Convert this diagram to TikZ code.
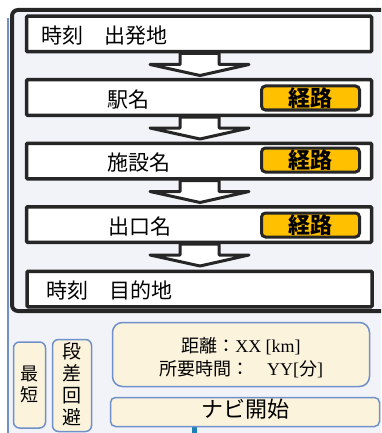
\documentclass[tikz,border=0pt]{standalone}
\usepackage{fontspec}
\setmainfont{Noto Sans CJK JP}
\newfontfamily\latinserif{Liberation Serif}
\usetikzlibrary{calc}
\definecolor{bgl}{HTML}{F2F3F9}
\definecolor{frameblk}{HTML}{262626}
\definecolor{blueln}{HTML}{7090CA}
\definecolor{cream}{HTML}{FBF3DC}
\definecolor{btn}{HTML}{FFC000}
\definecolor{tealln}{HTML}{1A80B5}
\begin{document}
\begin{tikzpicture}[x=1pt,y=-1pt,
  stepbox/.style={draw=frameblk, line width=3.5pt, fill=white, rectangle, rounded corners=1pt,
    inner sep=0pt, minimum width=345pt, minimum height=35.5pt},
  steplbl/.style={anchor=base west, inner sep=0pt, font=\fontsize{21}{24}\selectfont},
  btnbox/.style={draw=frameblk, line width=3pt, fill=btn, rounded corners=4pt,
    minimum width=98pt, minimum height=24pt, inner sep=0pt},
  btnlbl/.style={anchor=base, inner sep=0pt, font=\fontsize{22}{24}\selectfont\bfseries},
  arrowshape/.style={draw=frameblk, fill=white, line width=3pt, line join=round},
  creambox/.style={draw=blueln, line width=1.5pt, fill=cream, rounded corners=7pt,
    inner sep=0pt},
  creamlbl/.style={inner sep=0pt, align=center}
]
\useasboundingbox (0,0) rectangle (381,433);
\clip (0,0) rectangle (381,433);
\fill[white] (0,0) rectangle (381,433);
% outer light panel with blue left edge
\fill[bgl] (8,18) rectangle (420,460);
\draw[blueln, line width=1.6pt] (8,18) -- (8,440);
% black frame
\draw[frameblk, line width=4pt, fill=bgl, rounded corners=6pt] (12,10) rectangle (400,311);

% step boxes
\node[stepbox] (b1) at (199,34) {};
\node[stepbox] (b2) at (199,97.5) {};
\node[stepbox] (b3) at (199,161) {};
\node[stepbox] (b4) at (199,224.5) {};
\node[stepbox] (b5) at (199.5,289) {};

% block arrows
\foreach \a in {b1,b2,b3,b4}{
  \draw[arrowshape] ($(\a.south)+(-19,0)$) -- ++(0,11) -- ++(-30,0)
    -- ($(\a.south)+(1,22)$) -- ($(\a.south)+(50,11)$) -- ++(-30,0) -- ++(0,-11) -- cycle;
}

% labels
\node[steplbl] (t1) at (41,43.5) {時刻　出発地};
\node[steplbl] (t2) at (107,107) {駅名};
\node[steplbl] (t3) at (107,170.5) {施設名};
\node[steplbl] (t4) at (108,234) {出口名};
\node[steplbl] (t5) at (46,298.5) {時刻　目的地};

% buttons
\node[btnbox] (k2) at (310.5,98) {};
\node[btnbox] (k3) at (310.5,160) {};
\node[btnbox] (k4) at (310.5,225) {};
\node[btnlbl] (k2t) at (310.5,106.5) {経路};
\node[btnlbl] (k3t) at (310.5,168.5) {経路};
\node[btnlbl] (k4t) at (310.5,233.5) {経路};

% bottom controls
\node[creambox, minimum width=32pt, minimum height=86pt, rounded corners=6pt] (s1) at (29.5,385) {};
\node[creamlbl, font=\fontsize{18}{21}\selectfont] (s1t) at (29.5,384.5) {最\\短};
\node[creambox, minimum width=39pt, minimum height=92pt, rounded corners=6pt] (s2) at (72,385.5) {};
\node[creamlbl, font=\fontsize{19}{22}\selectfont] (s2t) at (71.5,384) {段\\差\\回\\避};
\node[creambox, minimum width=257pt, minimum height=64pt, rounded corners=10pt] (d) at (241,354.5) {};
\node[creamlbl, font=\fontsize{18}{23}\selectfont] (dt) at (241,358) {距離：{\latinserif XX [km]}\\所要時間：　{\latinserif YY[}分{\latinserif ]}};

% small connector below the start button
\coordinate (tl) at (194.5,440);
\draw[tealln, line width=5pt] (194.5,420) -- (tl);
\node[creambox, minimum width=269pt, minimum height=29pt, rounded corners=5pt] (n) at (245,412) {};
\node[inner sep=0pt, anchor=base, font=\fontsize{22}{24}\selectfont] (nt) at (245,417) {ナビ開始};
\end{tikzpicture}
\end{document}
